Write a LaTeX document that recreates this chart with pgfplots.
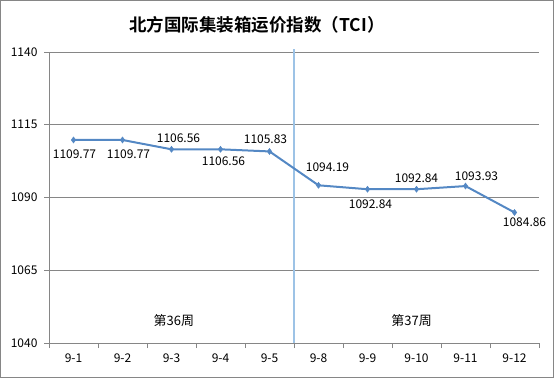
\documentclass[border=0pt]{standalone}
\usepackage{pgfplots}
\pgfplotsset{compat=1.18}
\usepackage{pgfplotstable}
\usepackage{fontspec}
\setmainfont{Noto Sans CJK SC}
\newfontfamily\titlefont{Noto Sans CJK SC Bold}
\definecolor{serie}{RGB}{84,136,196}
\definecolor{vline}{RGB}{157,195,230}
\definecolor{gridc}{RGB}{134,134,134}
\pgfplotstableread{
x y dx dy
0 1109.77 1 14
1 1109.77 6 14
2 1106.56 7 -11
3 1106.56 3 12
4 1105.83 -4 -12
5 1094.19 9 -18
6 1092.84 3 15
7 1092.84 0 -11
8 1093.93 11 -10
9 1084.86 10 10
}\tci
\begin{document}
\begin{tikzpicture}[x=1pt,y=1pt]
\useasboundingbox (0,0) rectangle (554,378);
\draw[gridc, line width=0.8pt] (0.5,0.5) rectangle (553.5,377.5);
\node[font=\titlefont\fontsize{17.5}{20}\selectfont] at (257,353) {北方国际集装箱运价指数（TCI）};
\begin{axis}[
  at={(49pt,35pt)}, anchor=south west, scale only axis,
  width=490pt, height=291pt,
  xmin=-0.5, xmax=9.5, ymin=1040, ymax=1140,
  ytick={1040,1065,...,1140},
  xtick={0,...,9},
  xticklabels={9-1,9-2,9-3,9-4,9-5,9-8,9-9,9-10,9-11,9-12},
  minor xtick={-0.5,0.5,...,9.5},
  major x tick style={draw=none},
  minor tick length=5pt, major tick length=5pt,
  tick align=outside,
  tick style={gridc, line width=0.6pt},
  axis lines*=left,
  axis line style={gridc, line width=0.8pt},
  ymajorgrids, grid style={gridc, line width=0.8pt},
  ticklabel style={font=\fontsize{12}{14}\selectfont},
  /pgf/number format/assume math mode=true,
  yticklabel style={/pgf/number format/fixed, /pgf/number format/1000 sep={}, xshift=-3pt},
  xticklabel style={yshift=-2pt},
  clip=false,
]
\addplot[vline, line width=1.5pt] coordinates {(4.5,1040) (4.5,1141)};
\addplot[serie, line width=2pt, mark=diamond*, mark size=3pt,
  mark options={fill=serie, line width=0.5pt},
  visualization depends on={\thisrow{dx} \as \dx},
  visualization depends on={\thisrow{dy} \as \dy},
  nodes near coords={\pgfmathprintnumber[fixed,precision=2,fixed zerofill,1000 sep={}]{\pgfplotspointmeta}},
  every node near coord/.append style={anchor=center, text=black, font=\fontsize{12}{14}\selectfont, xshift=\dx pt, yshift=-\dy pt},
] table[x=x,y=y] {\tci};
\node[font=\fontsize{13}{15}\selectfont] at (axis cs:2.05,1047.6) {第36周};
\node[font=\fontsize{13}{15}\selectfont] at (axis cs:6.9,1047.6) {第37周};
\end{axis}
\end{tikzpicture}
\end{document}
